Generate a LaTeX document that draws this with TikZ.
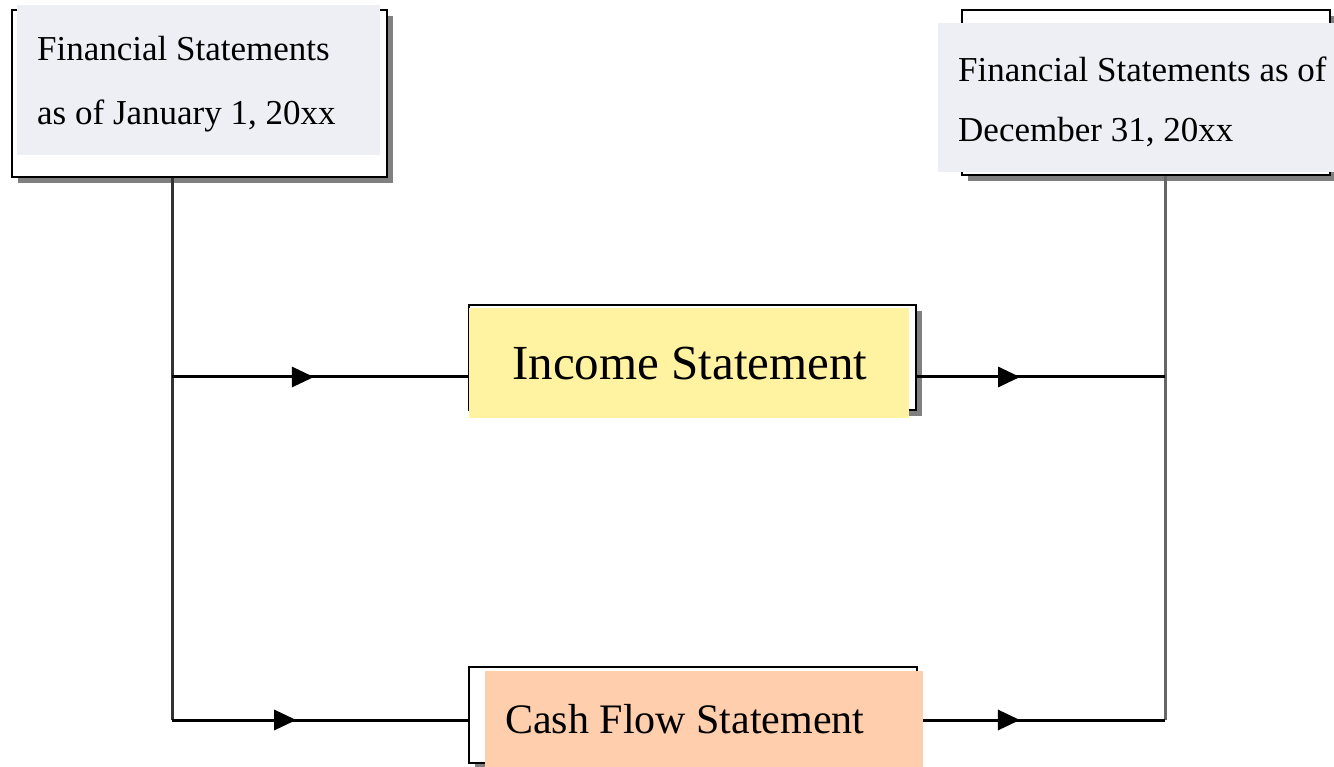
\documentclass[tikz,border=0pt]{standalone}
\usepackage{fontspec}
\setmainfont{Liberation Serif}
\usepackage{tikz}
\usetikzlibrary{arrows.meta,shadows,decorations.markings}

\definecolor{paleblue}{HTML}{EEEFF4}
\definecolor{paleyellow}{HTML}{FFF2A0}
\definecolor{palepeach}{HTML}{FFCEAD}

\begin{document}
\begin{tikzpicture}[
    x=1pt, y=-1pt,
    sheet/.style = {draw, line width=2.6pt, fill=white, inner sep=0pt,
        drop shadow={shadow xshift=6pt, shadow yshift=-6pt, fill=black!50, opacity=1}},
    face/.style = {inner sep=0pt},
    label/.style = {inner sep=0pt, anchor=base west, align=flush left},
    link/.style = {line width=3pt},
    midarrow/.style = {postaction={decorate}, decoration={markings,
        mark=at position #1 with {\arrow{Triangle[length=22pt,width=20pt]}}}}
]
\useasboundingbox (0,0) rectangle (1334,767);

% frames with shadows
\node (fs0) [sheet, minimum width=375pt, minimum height=167pt] at (199.5,93.5) {};
\node (fs1) [sheet, minimum width=368pt, minimum height=165pt] at (1146,92.5) {};
\node (is)  [sheet, minimum width=447pt, minimum height=105pt] at (692.5,357.5) {};
\node (cf)  [sheet, minimum width=448pt, minimum height=96pt]  at (693,715) {};

% coloured faces
\node (fs0f) [face, fill=paleblue,   minimum width=363pt, minimum height=150pt] at (198.5,80) {};
\node (fs1f) [face, fill=paleblue,   minimum width=410pt, minimum height=149pt] at (1143,97.5) {};
\node (isf)  [face, fill=paleyellow, minimum width=440pt, minimum height=110pt] at (689,363) {};
\node (cff)  [face, fill=palepeach,  minimum width=438pt, minimum height=104pt] at (704,723) {};

% texts (base = last line)
\node (fs0t) [label, font=\fontsize{35}{64}\selectfont] at (37,125)
    {Financial Statements\\as of January 1, 20xx};
\node (fs1t) [label, font=\fontsize{35}{60}\selectfont] at (958,142)
    {Financial Statements as of\\December 31, 20xx};
\node (ist)  [label, font=\fontsize{49}{56}\selectfont] at (512,380) {Income Statement};
\node (cft)  [label, font=\fontsize{42}{48}\selectfont] at (505,733) {Cash Flow Statement};

\coordinate (jl1) at (172,377);
\coordinate (jl2) at (172,720);
\coordinate (jr1) at (1165,377);
\coordinate (jr2) at (1165,720);

\draw[link, black!80] (fs0.south -| jl2) -- (jl2);
\draw[link, black!60] (fs1.south -| jr2) -- (jr2);
\draw[link, midarrow=0.48] (jl1) -- (jl1 -| is.west);
\draw[link, midarrow=0.42] (jl2) -- (jl2 -| cf.west);
\draw[link, midarrow=0.415] (is.east |- jr1) -- (jr1);
\draw[link, midarrow=0.40] (cff.east |- jr2) -- (jr2);
\end{tikzpicture}
\end{document}
